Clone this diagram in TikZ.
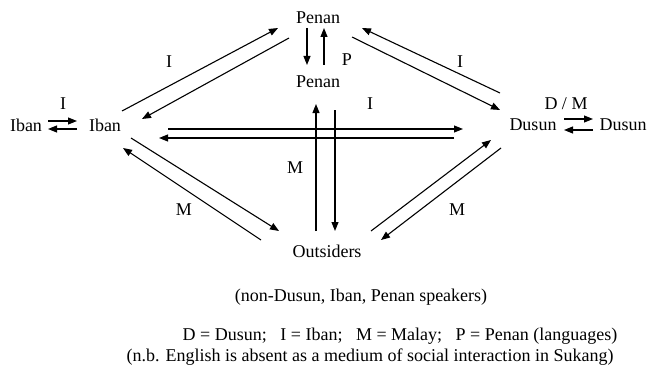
\documentclass[tikz,border=0pt]{standalone}
\usepackage{fontspec}
\setmainfont{Liberation Serif}
\usetikzlibrary{arrows.meta}
\begin{document}
\begin{tikzpicture}[x=1pt,y=-1pt,
  txt/.style={anchor=base,inner sep=0pt,font=\fontsize{18}{21}\selectfont},
  conn/.style={line width=1.1pt,-{Triangle[length=9pt,width=7pt]}}]
\useasboundingbox[fill=white] (0,0) rectangle (648,369);
% nodes
\node[txt] (penanT) at (318,24) {Penan};
\node[txt] (penanB) at (318,88) {Penan};
\node[txt] (ibanL) at (105,131) {Iban};
\node[txt] (ibanF) at (26,131) {Iban};
\node[txt] (dusunR) at (533,130) {Dusun};
\node[txt] (dusunF) at (623,130) {Dusun};
\node[txt] (outs) at (327,257) {Outsiders};
\node[txt] (note1) at (361,301) {(non-Dusun, Iban, Penan speakers)};
\node[txt] (leg1) at (400,340) {D = Dusun;\enspace\ I = Iban;\enspace\ M = Malay;\enspace\ P = Penan (languages)};
\node[txt] (leg2) at (370,361) {(n.b. English is absent as a medium of social interaction in Sukang)};
% labels
\node[txt] (lI1) at (63,110) {I};
\node[txt] (lP) at (347,66) {P};
\node[txt] (lI2) at (169,67) {I};
\node[txt] (lI3) at (460,67) {I};
\node[txt] (lDM) at (566,109) {D / M};
\node[txt] (lI4) at (370,109) {I};
\node[txt] (lM1) at (295,173) {M};
\node[txt] (lM2) at (184,215) {M};
\node[txt] (lM3) at (457,215) {M};
% endpoints
\coordinate (a1) at (48,121); \coordinate (a2) at (77,121);
\coordinate (b1) at (77,129); \coordinate (b2) at (48,129);
\coordinate (c1) at (564,119); \coordinate (c2) at (593,119);
\coordinate (d1) at (593,130); \coordinate (d2) at (564,130);
\coordinate (e1) at (307,28); \coordinate (e2) at (307,65);
\coordinate (f1) at (324,65); \coordinate (f2) at (324,28);
\coordinate (g1) at (122,111); \coordinate (g2) at (278,28);
\coordinate (h1) at (289,38); \coordinate (h2) at (142,119);
\coordinate (i1) at (500,93); \coordinate (i2) at (362,28);
\coordinate (j1) at (352,37); \coordinate (j2) at (500,110);
\coordinate (k1) at (168,129); \coordinate (k2) at (463,129);
\coordinate (l1) at (454,138); \coordinate (l2) at (159,138);
\coordinate (m1) at (316,231); \coordinate (m2) at (316,104);
\coordinate (n1) at (335,110); \coordinate (n2) at (335,231);
\coordinate (o1) at (131,138); \coordinate (o2) at (279,231);
\coordinate (p1) at (261,240); \coordinate (p2) at (123,148);
\coordinate (q1) at (371,231); \coordinate (q2) at (491,140);
\coordinate (r1) at (501,148); \coordinate (r2) at (381,240);
% connectors
\foreach \s/\t in {a1/a2,b1/b2,c1/c2,d1/d2,e1/e2,f1/f2,g1/g2,h1/h2,i1/i2,j1/j2,k1/k2,l1/l2,m1/m2,n1/n2,o1/o2,p1/p2,q1/q2,r1/r2}
  \draw[conn] (\s) -- (\t);
\end{tikzpicture}
\end{document}
